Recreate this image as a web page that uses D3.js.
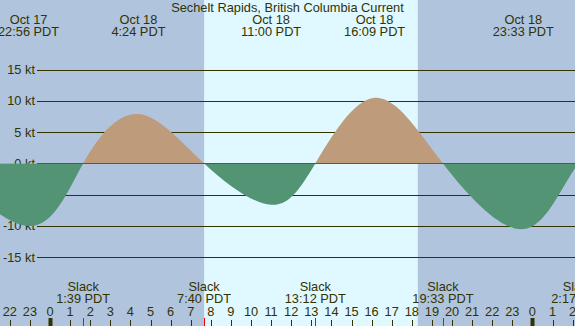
<!DOCTYPE html>
<html>
<head>
<meta charset="utf-8">
<script src="https://cdn.jsdelivr.net/npm/d3@7/dist/d3.min.js"></script>
<style>
  html, body { margin: 0; padding: 0; background: #fff; }
  svg { display: block; }
  text { font-family: "Liberation Sans", Arial, sans-serif; font-size: 12.8px; fill: #333300; }
</style>
</head>
<body>
<svg id="chart" width="575" height="326"></svg>
<script>
// ── Data ──────────────────────────────────────────────────────────────────
// day offsets are relative to Oct 18 (0 = Oct 18, -1 = Oct 17, 1 = Oct 19)
const title = 'Sechelt Rapids, British Columbia Current';

const maxDates  = ['Oct 17', 'Oct 18', 'Oct 18', 'Oct 18', 'Oct 18'];
const maxDays   = [-1, 0, 0, 0, 0];
const maxTimes  = ['22:56', '4:24', '11:00', '16:09', '23:33'];
const maxSpeeds = [-10.0, 7.9, -6.6, 10.5, -10.5];

const slackDays  = [0, 0, 0, 0, 1];
const slackTimes = ['1:39', '7:40', '13:12', '19:33', '2:17'];

// events just outside the visible window, so the curve runs off both edges
const edgeDays   = [-1, -1, 1];
const edgeTimes  = ['15:40', '18:35', '5:30'];
const edgeSpeeds = [7.5, 0, 8.0];

const sunrise = '7:40';
const sunset  = '18:18';

const yTicks = [15, 10, 5, 0, -5, -10, -15];

// ── Helpers ───────────────────────────────────────────────────────────────
const toHours = (day, t) => {
  const [hh, mm] = t.split(':').map(Number);
  return day * 24 + hh + mm / 60;
};

const W = 575, H = 326;
const pxPerHour = 20.1;
const x0 = 50; // x of Oct 18 00:00
const x = d3.scaleLinear()
  .domain([-x0 / pxPerHour, (W - x0) / pxPerHour])
  .range([0, W]);
const y = d3.scaleLinear().domain([-15, 15]).range([257.2, 69.7]);

const events = [];
maxTimes.forEach((t, i) => events.push({ h: toHours(maxDays[i], t), v: maxSpeeds[i] }));
slackTimes.forEach((t, i) => events.push({ h: toHours(slackDays[i], t), v: 0 }));
edgeTimes.forEach((t, i) => events.push({ h: toHours(edgeDays[i], t), v: edgeSpeeds[i] }));
events.sort((a, b) => a.h - b.h);

const svg = d3.select('#chart');

// ── Background: night / day ───────────────────────────────────────────────
svg.append('rect').attr('x', 0).attr('y', 0).attr('width', W).attr('height', H)
  .attr('fill', '#b0c4de');
const dayStart = x(toHours(0, sunrise)), dayEnd = x(toHours(0, sunset));
svg.append('rect').attr('x', dayStart).attr('y', 0)
  .attr('width', dayEnd - dayStart).attr('height', H)
  .attr('fill', '#e0f8ff');

// ── Grid lines + labels ───────────────────────────────────────────────────
const grid = svg.append('g');
grid.selectAll('line').data(yTicks).join('line')
  .attr('x1', 37).attr('x2', W)
  .attr('y1', d => Math.round(y(d)) + 0.5).attr('y2', d => Math.round(y(d)) + 0.5)
  .attr('stroke', '#333300').attr('stroke-width', 1);
grid.selectAll('text').data(yTicks).join('text')
  .attr('x', 35).attr('y', d => y(d)).attr('dy', '0.35em')
  .attr('text-anchor', 'end')
  .text(d => d + ' kt');

// ── Current curve (flood tan above 0, ebb green below) ────────────────────
const defs = svg.append('defs');
defs.append('clipPath').attr('id', 'clipUp')
  .append('rect').attr('x', 0).attr('y', 0).attr('width', W).attr('height', y(0));
defs.append('clipPath').attr('id', 'clipDown')
  .append('rect').attr('x', 0).attr('y', y(0)).attr('width', W).attr('height', H - y(0));

const area = d3.area()
  .x(d => x(d.h))
  .y0(y(0))
  .y1(d => y(d.v))
  .curve(d3.curveNatural);

svg.append('path').datum(events).attr('d', area)
  .attr('fill', '#bd9b7b').attr('clip-path', 'url(#clipUp)');
svg.append('path').datum(events).attr('d', area)
  .attr('fill', '#529474').attr('clip-path', 'url(#clipDown)');

// ── Top labels (max flood / ebb) ──────────────────────────────────────────
svg.append('text').attr('x', W / 2).attr('y', 12).attr('text-anchor', 'middle').text(title);
const topG = svg.append('g');
maxTimes.forEach((t, i) => {
  const cx = x(toHours(maxDays[i], t));
  topG.append('text').attr('x', cx).attr('y', 24).attr('text-anchor', 'middle').text(maxDates[i]);
  topG.append('text').attr('x', cx).attr('y', 36).attr('text-anchor', 'middle').text(t + ' PDT');
});

// ── Bottom: slack labels, hour axis ───────────────────────────────────────
const bottomG = svg.append('g');
slackTimes.forEach((t, i) => {
  const cx = x(toHours(slackDays[i], t));
  bottomG.append('text').attr('x', cx).attr('y', 291).attr('text-anchor', 'middle').text('Slack');
  bottomG.append('text').attr('x', cx).attr('y', 303).attr('text-anchor', 'middle').text(t + ' PDT');
});

const hours = d3.range(Math.ceil(x.domain()[0]), Math.floor(x.domain()[1]) + 1);
bottomG.selectAll('.hl').data(hours).join('text')
  .attr('class', 'hl')
  .attr('x', d => x(d)).attr('y', 316).attr('text-anchor', 'middle')
  .text(d => ((d % 24) + 24) % 24);
bottomG.selectAll('.ht').data(hours).join('line')
  .attr('class', 'ht')
  .attr('x1', d => Math.round(x(d)) + 0.5).attr('x2', d => Math.round(x(d)) + 0.5)
  .attr('y1', d => d % 24 === 0 ? 318 : 320).attr('y2', H)
  .attr('stroke', '#333300')
  .attr('stroke-width', d => d % 24 === 0 ? 4 : 1);
bottomG.selectAll('.st').data(slackTimes).join('line')
  .attr('class', 'st')
  .attr('x1', (t, i) => Math.round(x(toHours(slackDays[i], t))) + 0.5)
  .attr('x2', (t, i) => Math.round(x(toHours(slackDays[i], t))) + 0.5)
  .attr('y1', 318).attr('y2', H)
  .attr('stroke', '#ff0000').attr('stroke-width', 1);
</script>
</body>
</html>
